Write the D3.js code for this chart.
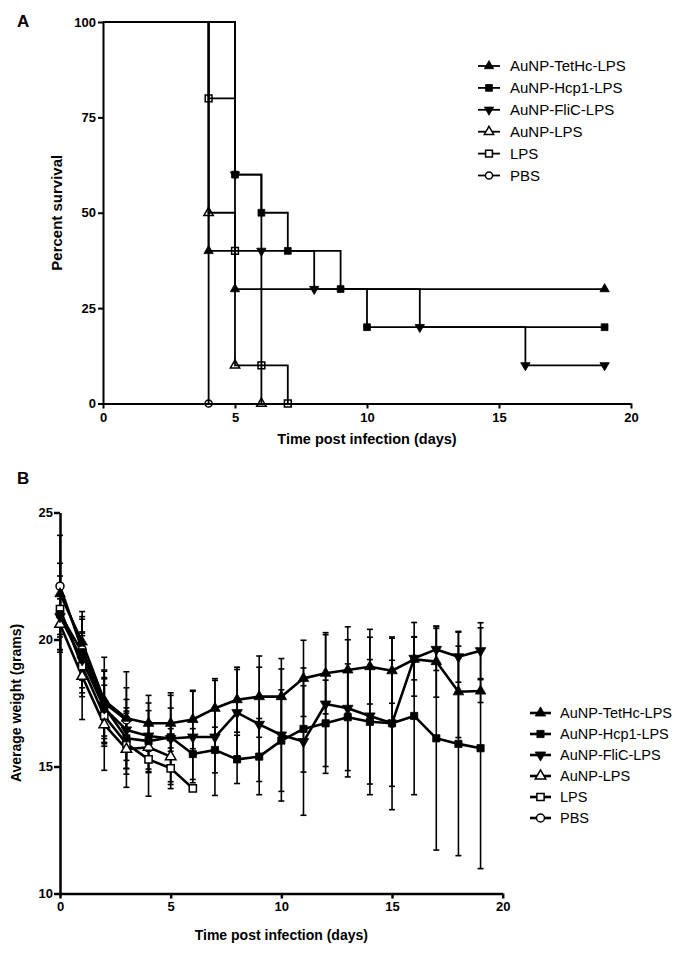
<!DOCTYPE html>
<html><head><meta charset="utf-8">
<script src="https://cdn.jsdelivr.net/npm/d3@7"></script>
<style>body{margin:0;background:#fff} svg{display:block} text{font-family:"Liberation Sans",Arial,sans-serif;fill:#000}</style>
</head><body>
<svg id="c" width="687" height="956"></svg>
<script>
// ---------- shared series info ----------
const seriesNames = ["AuNP-TetHc-LPS","AuNP-Hcp1-LPS","AuNP-FliC-LPS","AuNP-LPS","LPS","PBS"];
const seriesShapes = ["triUp","square","triDown","triUp","square","circle"];
const seriesFilled = [true,true,true,false,false,false];

// ---------- Panel A: Kaplan-Meier survival ----------
const survDaysTetHc = [0,4,5,19],           survTetHc = [100,40,30,30];
const survDaysHcp1  = [0,5,6,7,9,10,19],    survHcp1  = [100,60,50,40,30,20,20];
const survDaysFliC  = [0,5,6,8,12,16,19],   survFliC  = [100,60,40,30,20,10,10];
const survDaysAuNP  = [0,4,5,6],            survAuNP  = [100,50,10,0];
const survDaysLPS   = [0,4,5,6,7],          survLPS   = [100,80,40,10,0];
const survDaysPBS   = [0,4],                survPBS   = [100,0];
const xTicksA = [0,5,10,15,20];
const yTicksA = [0,25,50,75,100];

// ---------- Panel B: average weight ----------
const weightDays = [0,1,2,3,4,5,6,7,8,9,10,11,12,13,14,15,16,17,18,19];
const wTetHc   = [21.8,19.9,17.6,16.9,16.7,16.7,16.85,17.29,17.63,17.75,17.75,18.47,18.67,18.8,18.93,18.77,19.22,19.13,17.94,17.97];
const sdTetHc  = [1.2,1.0,1.7,1.2,1.1,1.1,1.15,1.1,1.28,1.6,1.5,1.5,1.6,1.7,1.47,1.28,1.45,1.4,1.8,0.45];
const wHcp1    = [21.0,19.5,17.35,16.11,16.0,16.15,15.49,15.65,15.28,15.39,16.02,16.48,16.7,16.94,16.76,16.7,16.99,16.11,15.89,15.72];
const sdHcp1   = [1.5,1.6,1.4,1.2,1.2,1.75,1.0,0.9,0.95,1.5,2.0,1.7,1.7,2.1,2.45,2.48,3.1,4.4,4.4,4.74];
const wFliC    = [20.9,19.2,17.3,16.44,16.2,16.1,16.16,16.16,17.12,16.66,16.24,15.98,17.46,17.29,16.99,16.7,19.26,19.61,19.32,19.56];
const sdFliC   = [1.3,1.1,1.2,1.2,1.3,1.2,1.8,2.3,1.7,2.25,2.6,2.9,2.73,2.7,3.1,3.4,0.85,0.83,1.0,1.1];
const wAuNP    = [20.6,18.55,16.65,15.68,15.76,15.39];
const sdAuNP   = [1.0,1.7,1.8,1.5,1.0,1.1];
const wLPS     = [21.2,18.95,17.0,15.9,15.28,14.93,14.14];
const sdLPS    = [1.0,1.2,1.2,1.2,1.45,0.8,0];
const wPBS     = [22.1,19.6,17.5,16.83];
const sdPBS    = [2.0,1.2,1.3,1.9];
const xTicksB = [0,5,10,15,20];
const yTicksB = [10,15,20,25];

const survival = [
  [survDaysTetHc,survTetHc],[survDaysHcp1,survHcp1],[survDaysFliC,survFliC],
  [survDaysAuNP,survAuNP],[survDaysLPS,survLPS],[survDaysPBS,survPBS]
].map((d,i)=>({i, pts: d[0].map((t,k)=>({x:t,y:d[1][k]}))}));

const weights = [[wTetHc,sdTetHc],[wHcp1,sdHcp1],[wFliC,sdFliC],[wAuNP,sdAuNP],[wLPS,sdLPS],[wPBS,sdPBS]]
  .map((d,i)=>({i, pts: d[0].map((v,k)=>({x:weightDays[k],y:v,sd:d[1][k]}))}));

const svg = d3.select("#c");

function symPath(shape, size){
  const t = shape==="square"?d3.symbolSquare: shape==="circle"?d3.symbolCircle: d3.symbolTriangle;
  return d3.symbol(t, size)();
}
function drawMarker(g, shape, filled, x, y, sizes, openFill){
  const size = sizes[shape];
  g.append("path").attr("d", symPath(shape,size))
    .attr("transform", `translate(${x},${y})` + (shape==="triDown"?" rotate(180)":""))
    .attr("fill", filled?"#000":openFill).attr("stroke","#000").attr("stroke-width", filled?0.8:1.5);
}

function styleAxis(g, w, fs){
  g.selectAll("path.domain").attr("stroke","#000").attr("stroke-width",w);
  g.selectAll(".tick line").attr("stroke","#000").attr("stroke-width",w);
  g.selectAll(".tick text").attr("font-size",fs).attr("font-weight","bold")
   .attr("font-family",'"Liberation Sans",Arial,sans-serif').attr("fill","#000");
}

// ================= Panel A =================
const xA = d3.scaleLinear().domain([0,20]).range([103,631]);
const yA = d3.scaleLinear().domain([0,100]).range([403.5,22]);
const gA = svg.append("g");
const sizesA = {triUp:38, triDown:38, square:46, circle:40};

const gxA = gA.append("g").attr("transform",`translate(0,${yA(0)})`)
  .call(d3.axisBottom(xA).tickValues(xTicksA).tickSize(5).tickSizeOuter(0).tickPadding(4));
styleAxis(gxA,2,13);
const gyA = gA.append("g").attr("transform",`translate(${xA(0)},0)`)
  .call(d3.axisLeft(yA).tickValues(yTicksA).tickSize(5).tickSizeOuter(0).tickPadding(2));
styleAxis(gyA,2,13);

const stepLine = d3.line().x(d=>xA(d.x)).y(d=>yA(d.y)).curve(d3.curveStepAfter);
survival.forEach(s=>{
  gA.append("path").attr("d",stepLine(s.pts)).attr("fill","none").attr("stroke","#000").attr("stroke-width",1.8);
});
// markers: draw later series first so earlier series sit on top
survival.slice().reverse().forEach(s=>{
  s.pts.slice(1).forEach(p=>drawMarker(gA, seriesShapes[s.i], seriesFilled[s.i], xA(p.x), yA(p.y), sizesA, "none"));
});

gA.append("text").attr("x",17).attr("y",27).attr("font-size",17).attr("font-weight","bold").text("A");
gA.append("text").attr("transform",`translate(62,${(yA(0)+yA(100))/2}) rotate(-90)`)
  .attr("text-anchor","middle").attr("font-size",15).attr("font-weight","bold").text("Percent survival");
gA.append("text").attr("x",(xA(0)+xA(20))/2).attr("y",444).attr("text-anchor","middle")
  .attr("font-size",14.5).attr("font-weight","bold").text("Time post infection (days)");

// Legend A
seriesNames.forEach((n,i)=>{
  const y = 66 + i*21.9;
  gA.append("line").attr("x1",478).attr("x2",500).attr("y1",y).attr("y2",y).attr("stroke","#000").attr("stroke-width",1.8);
  drawMarker(gA, seriesShapes[i], seriesFilled[i], 489, y, sizesA, "#fff");
  gA.append("text").attr("x",510).attr("y",y).attr("dy","0.35em").attr("font-size",15).text(n);
});

// ================= Panel B =================
const xB = d3.scaleLinear().domain([0,20]).range([60,502.7]);
const yB = d3.scaleLinear().domain([10,25]).range([893.5,512.5]);
const gB = svg.append("g");
const sizesB = {triUp:48, triDown:48, square:52, circle:50};

const gxB = gB.append("g").attr("transform",`translate(0,${yB(10)})`)
  .call(d3.axisBottom(xB).tickValues(xTicksB).tickSize(5).tickSizeOuter(0).tickPadding(3));
styleAxis(gxB,2.5,13);
const gyB = gB.append("g").attr("transform",`translate(${xB(0)},0)`)
  .call(d3.axisLeft(yB).tickValues(yTicksB).tickSize(6).tickSizeOuter(0).tickPadding(1));
styleAxis(gyB,2.5,13);

// error bars
weights.forEach(s=>{
  s.pts.forEach(p=>{
    if(!p.sd) return;
    const x = xB(p.x), y1 = yB(p.y+p.sd), y2 = yB(p.y-p.sd);
    gB.append("line").attr("x1",x).attr("x2",x).attr("y1",y1).attr("y2",y2).attr("stroke","#000").attr("stroke-width",1.6);
    [y1,y2].forEach(yy=>gB.append("line").attr("x1",x-3).attr("x2",x+3).attr("y1",yy).attr("y2",yy).attr("stroke","#000").attr("stroke-width",1.6));
  });
});
const wLine = d3.line().x(d=>xB(d.x)).y(d=>yB(d.y));
weights.forEach(s=>{
  gB.append("path").attr("d",wLine(s.pts)).attr("fill","none").attr("stroke","#000").attr("stroke-width",2.6).attr("stroke-linejoin","round");
});
weights.slice().reverse().forEach(s=>{
  s.pts.forEach(p=>drawMarker(gB, seriesShapes[s.i], seriesFilled[s.i], xB(p.x), yB(p.y), sizesB, "#fff"));
});

gB.append("text").attr("x",17).attr("y",484).attr("font-size",17).attr("font-weight","bold").text("B");
gB.append("text").attr("transform",`translate(21,${(yB(10)+yB(25))/2}) rotate(-90)`)
  .attr("text-anchor","middle").attr("font-size",14).attr("font-weight","bold").text("Average weight (grams)");
gB.append("text").attr("x",(xB(0)+xB(20))/2).attr("y",940).attr("text-anchor","middle")
  .attr("font-size",14).attr("font-weight","bold").text("Time post infection (days)");

// Legend B
seriesNames.forEach((n,i)=>{
  const y = 713 + i*21;
  gB.append("line").attr("x1",530).attr("x2",551).attr("y1",y).attr("y2",y).attr("stroke","#000").attr("stroke-width",2.6);
  drawMarker(gB, seriesShapes[i], seriesFilled[i], 540.5, y, sizesB, "#fff");
  gB.append("text").attr("x",560).attr("y",y).attr("dy","0.35em").attr("font-size",14.5).text(n);
});
</script>
</body></html>
